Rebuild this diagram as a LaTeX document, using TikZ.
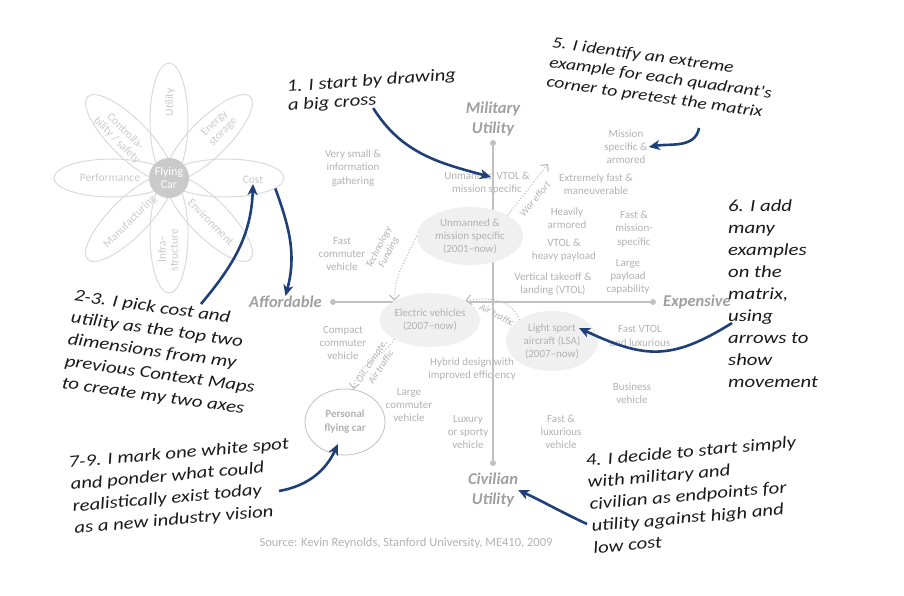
\documentclass[tikz,border=0pt]{standalone}
\usepackage{fontspec}
\setmainfont{Carlito}
\newfontfamily\handfont{Carlito}[FakeStretch=1.22]
\usepackage{tikz}
\usetikzlibrary{shapes.geometric, arrows.meta}

\definecolor{inkblue}{RGB}{31,63,120}
\definecolor{txtgray}{RGB}{178,178,178}
\definecolor{axgray}{RGB}{192,192,192}
\definecolor{lblgray}{RGB}{160,160,160}
\definecolor{blobfill}{RGB}{240,240,240}
\definecolor{petalgray}{RGB}{218,218,218}
\definecolor{petaltxt}{RGB}{202,202,202}

\begin{document}
\begin{tikzpicture}[x=1pt, y=1pt,
    gtxt/.style={text=txtgray, align=center, inner sep=1pt, font=\fontsize{11}{13.2}\selectfont},
    petal/.style={draw=petalgray, line width=1pt, ellipse, minimum width=116pt, minimum height=38pt, inner sep=0pt},
    ptxt/.style={text=petaltxt, align=center, inner sep=0pt, font=\fontsize{11.5}{12}\selectfont},
    blob/.style={ellipse, fill=blobfill, text=txtgray, align=center, inner sep=0pt, font=\fontsize{11}{13}\selectfont},
    dotn/.style={circle, fill=axgray, inner sep=0pt, minimum size=6pt},
    axisline/.style={axgray, line width=1.6pt},
    axlabel/.style={text=lblgray, align=center, inner sep=0pt, font=\fontsize{16.5}{20}\selectfont\bfseries\itshape},
    dotarrow/.style={axgray, line width=1.2pt, dash pattern=on 1pt off 2pt, -{Straight Barb[length=5pt, width=10pt]}},
    arrlabel/.style={text=txtgray, align=center, inner sep=0pt, font=\fontsize{10}{11}\selectfont\itshape},
    bluearrow/.style={inkblue, line width=2.6pt, -{Stealth[length=11pt, width=10pt, inset=3pt]}},
    note/.style={align=left, anchor=north west, inner sep=0pt, text=black!90, font=\handfont\itshape\fontsize{17}{22}\selectfont}
  ]
  \useasboundingbox (0,0) rectangle (904,-596);

  % flower of dimensions
  \node[petal, rotate=0] (pCost) at (226,-178) {};
  \node[petal, rotate=45] (pEnergy) at (209.3,-137.7) {};
  \node[petal, rotate=90] (pUtil) at (169,-121) {};
  \node[petal, rotate=135] (pCtrl) at (128.7,-137.7) {};
  \node[petal, rotate=180] (pPerf) at (112,-178) {};
  \node[petal, rotate=225] (pManu) at (128.7,-218.3) {};
  \node[petal, rotate=270] (pInfra) at (169,-235) {};
  \node[petal, rotate=315] (pEnv) at (209.3,-218.3) {};
  \node[circle, fill=petaltxt, text=white, align=center, inner sep=0pt, minimum size=40pt,
    font=\fontsize{12}{13}\selectfont] (fcar) at (169,-178) {Flying\\Car};

  \node[ptxt] (costLbl) at (253,-180) {Cost};
  \node[ptxt, rotate=45] (energyLbl) at (219,-128) {Energy\\storage};
  \node[ptxt, rotate=90] (utilLbl) at (170,-102) {Utility};
  \node[ptxt, rotate=-45] (ctrlLbl) at (121,-136) {Controlla-\\bility / safety};
  \node[ptxt] (perfLbl) at (110,-178) {Performance};
  \node[ptxt, rotate=45] (manuLbl) at (130,-222) {Manufacturing};
  \node[ptxt, rotate=90] (infraLbl) at (168,-250) {Infra-\\structure};
  \node[ptxt, rotate=-45] (envLbl) at (211,-222) {Environment};

  % examples in the matrix
  \node[gtxt] (vsmall) at (353,-168) {Very small \&\\information\\gathering};
  \node[gtxt] (uvtol) at (487,-183) {Unmanned VTOL \&\\mission specific};
  \node[gtxt] (xfast) at (596,-184) {Extremely fast \&\\maneuverable};
  \node[gtxt] (misarm) at (626,-147) {Mission\\specific \&\\armored};
  \node[gtxt] (heavy) at (567,-218) {Heavily\\armored};
  \node[gtxt] (fastmis) at (634,-229) {Fast \&\\mission-\\specific};
  \node[gtxt] (vtolhp) at (564,-250) {VTOL \&\\heavy payload};
  \node[gtxt] (largep) at (628,-277) {Large\\payload\\capability};
  \node[gtxt] (vtol) at (553,-284) {Vertical takeoff \&\\landing (VTOL)};
  \node[gtxt] (fastcom) at (342,-254) {Fast\\commuter\\vehicle};
  \node[gtxt] (compact) at (343,-343) {Compact\\commuter\\vehicle};
  \node[gtxt] (hybrid) at (472,-369) {Hybrid design with\\improved efficiency};
  \node[gtxt] (fvtol) at (640,-336) {Fast VTOL\\and luxurious};
  \node[gtxt] (busi) at (632,-393) {Business\\vehicle};
  \node[gtxt] (largec) at (409,-405) {Large\\commuter\\vehicle};
  \node[gtxt] (luxury) at (468,-432) {Luxury\\or sporty\\vehicle};
  \node[gtxt] (fastlux) at (561,-432) {Fast \&\\luxurious\\vehicle};

  % the big cross
  \node[dotn] (mdot) at (493,-143) {};
  \node[dotn] (cdot) at (493,-463) {};
  \node[dotn] (adot) at (333,-302) {};
  \node[dotn] (edot) at (653,-302) {};
  \draw[axisline] (mdot) -- (cdot);
  \draw[axisline] (adot) -- (edot);
  \node[axlabel] (milLbl) at (493,-119) {Military\\Utility};
  \node[axlabel] (civLbl) at (493,-490) {Civilian\\Utility};
  \node[axlabel, anchor=east] (affLbl) at (322,-302) {Affordable};
  \node[axlabel, anchor=west] (expLbl) at (663,-302) {Expensive};

  \node[blob, minimum width=106pt, minimum height=58pt] (unm) at (470,-236) {Unmanned \&\\mission specific\\(2001--now)};
  \node[blob, minimum width=96pt, minimum height=54pt] (elec) at (430,-320) {Electric vehicles\\(2007--now)};
  \node[blob, minimum width=92pt, minimum height=60pt] (lsa) at (552,-341) {Light sport\\aircraft (LSA)\\(2007--now)};
  \node[blob, fill=white, draw=axgray, line width=0.8pt, minimum width=80pt, minimum height=66pt,
    font=\fontsize{11}{14}\selectfont\bfseries] (pfc) at (345,-422) {Personal\\flying car};

  % movement
  \coordinate (warTip) at (548,-164);
  \draw[dotarrow] (unm.north east) -- (warTip);
  \node[arrlabel, rotate=50] (warLbl) at (535,-199) {War effort};
  \draw[dotarrow] (unm.west) to[out=-115, in=90] (elec.north west);
  \node[arrlabel, rotate=63] (techLbl) at (384,-250) {Technology\\Funding};
  \draw[dotarrow] (lsa.north west) to[out=110, in=10] (elec.north east);
  \node[arrlabel, rotate=-28] (airLbl) at (497,-315) {Air traffic};
  \draw[dotarrow] (elec.south west) to[out=-125, in=85] (pfc.75);
  \node[arrlabel, rotate=57] (oilLbl) at (376,-364) {Oil, climate,\\Air traffic};

  \node[text=txtgray, font=\fontsize{12.5}{14}\selectfont] (source) at (406,-543)
    {Source: Kevin Reynolds, Stanford University, ME410, 2009};

  % hand written notes
  \node[note, rotate=4, font=\handfont\itshape\fontsize{17}{19}\selectfont] (note1) at (286,-80) {1. I start by drawing\\a big cross};
  \node[note, rotate=-8, font=\handfont\itshape\fontsize{16}{20}\selectfont] (note5) at (553,-36) {5. I identify an extreme\\example for each quadrant's\\corner to pretest the matrix};
  \node[note, rotate=-8] (note23) at (75,-289) {2-3. I pick cost and\\utility as the top two\\dimensions from my\\previous Context Maps\\to create my two axes};
  \node[note, rotate=5] (note79) at (68,-456) {7-9. I mark one white spot\\and ponder what could\\realistically exist today\\as a new industry vision};
  \node[note, rotate=5] (note4) at (585,-454) {4. I decide to start simply\\with military and\\civilian as endpoints for\\utility against high and\\low cost};
  \node[note] (note6) at (728,-199) {6. I add\\many\\examples\\on the\\matrix,\\using\\arrows to\\show\\movement};

  % arrows from the notes
  \coordinate (crossTip) at (491,-177);
  \coordinate (s2) at (201,-304);
  \coordinate (s4) at (587,-524);
  \coordinate (s5) at (699,-128);
  \coordinate (s6) at (732,-323);
  \coordinate (lsaTip) at (579,-328);
  \coordinate (s7) at (279,-491);
  \coordinate (pfcTip) at (338,-444);
  \draw[bluearrow] (note1.south) to[out=-58, in=165] (crossTip);
  \draw[bluearrow] (s2) to[out=50, in=-92] (costLbl.south);
  \draw[bluearrow] (pCost.-12) to[out=-70, in=75] (affLbl.north);
  \draw[bluearrow] (s4) to[out=155, in=-25] (civLbl.east);
  \draw[bluearrow] (s5) to[out=-100, in=10] (misarm.east);
  \draw[bluearrow] (s6) to[out=212, in=-25, looseness=1.2] (lsaTip);
  \draw[bluearrow] (s7) to[out=10, in=-115] (pfcTip);
\end{tikzpicture}
\end{document}
